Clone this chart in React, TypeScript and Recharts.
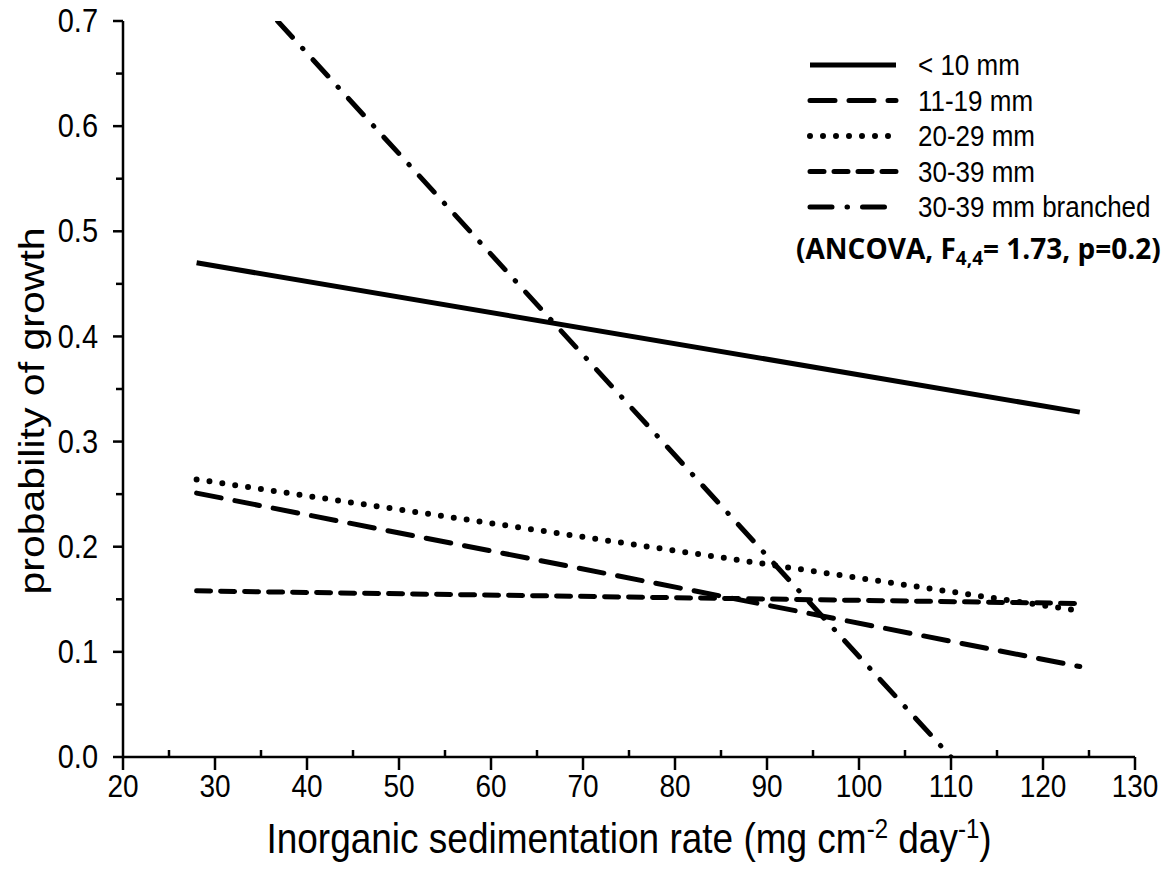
import React from "react";
import { LineChart, Line, XAxis, YAxis } from "recharts";

// fitted regression lines (x = sedimentation rate, y = probability)
const sedimentRange = [28, 124];
const branchedRange = [36.8, 110];
const lessThan10 = [0.47, 0.328];
const size11to19 = [0.251, 0.086];
const size20to29 = [0.264, 0.139];
const size30to39 = [0.158, 0.146];
const size30to39Branched = [0.7, 0.0];

const seriesNames = ["< 10 mm", "11-19 mm", "20-29 mm", "30-39 mm", "30-39 mm branched"];

const xTicks = [20, 25, 30, 35, 40, 45, 50, 55, 60, 65, 70, 75, 80, 85, 90, 95, 100, 105, 110, 115, 120, 125, 130];
const yTicks = [0, 0.05, 0.1, 0.15, 0.2, 0.25, 0.3, 0.35, 0.4, 0.45, 0.5, 0.55, 0.6, 0.65, 0.7];

const FONT = '"Liberation Sans", Arial, sans-serif';
const STRETCH = 1.14; // the source figure's text is a bit taller than wide

const toPoints = (xs: number[], ys: number[]) => xs.map((x, i) => ({ x, y: ys[i] }));

const series = [
  { name: seriesNames[0], data: toPoints(sedimentRange, lessThan10), dash: undefined, cap: "butt", w: 5 },
  { name: seriesNames[1], data: toPoints(sedimentRange, size11to19), dash: "25 14", cap: "round", w: 5 },
  { name: seriesNames[2], data: toPoints(sedimentRange, size20to29), dash: "0 13", cap: "round", w: 6 },
  { name: seriesNames[3], data: toPoints(sedimentRange, size30to39), dash: "14 10", cap: "round", w: 5 },
  { name: seriesNames[4], data: toPoints(branchedRange, size30to39Branched), dash: "22 15 0.5 15", cap: "round", w: 5 },
];

const XTick = (props: any) => {
  const { x, y, payload } = props;
  const major = payload.value % 10 === 0;
  return (
    <g>
      <line x1={x} x2={x} y1={y} y2={major ? y + 13 : y - 7} stroke="#000" strokeWidth={2.5} />
      {major && (
        <text
          transform={`translate(${x},${y + 40}) scale(1,${STRETCH})`}
          textAnchor="middle"
          fontSize={28}
          fontFamily={FONT}
          fill="#000"
        >
          {payload.value}
        </text>
      )}
    </g>
  );
};

const YTick = (props: any) => {
  const { x, y, payload } = props;
  const major = Math.round(payload.value * 100) % 10 === 0;
  return (
    <g>
      <line x1={x - (major ? 10 : 7)} x2={x} y1={y} y2={y} stroke="#000" strokeWidth={2.5} />
      {major && (
        <text
          transform={`translate(${x - 25},${y}) scale(1,${STRETCH})`}
          textAnchor="end"
          dominantBaseline="central"
          fontSize={29}
          fontFamily={FONT}
          fill="#000"
        >
          {payload.value.toFixed(1)}
        </text>
      )}
    </g>
  );
};

const xTitle = (props: any) => {
  const { viewBox } = props;
  const cx = viewBox.x + viewBox.width / 2;
  return (
    <text
      transform={`translate(${cx},${viewBox.y + 96}) scale(1,${STRETCH})`}
      textAnchor="middle"
      fontSize={37}
      fontFamily={FONT}
      fill="#000"
    >
      Inorganic sedimentation rate (mg cm
      <tspan dy={-13} fontSize={24}>-2</tspan>
      <tspan dy={13}> day</tspan>
      <tspan dy={-13} fontSize={24}>-1</tspan>
      <tspan dy={13}>)</tspan>
    </text>
  );
};

const yTitle = (props: any) => {
  const { viewBox } = props;
  const cy = viewBox.y + viewBox.height / 2 + 22;
  return (
    <text
      transform={`translate(31,${cy}) scale(1,${STRETCH}) rotate(-90)`}
      textAnchor="middle"
      dominantBaseline="central"
      fontSize={36}
      fontFamily={FONT}
      fill="#000"
    >
      probability of growth
    </text>
  );
};

const LegendBox = () => (
  <svg width={1170} height={300} style={{ position: "absolute", left: 0, top: 0, pointerEvents: "none" }}>
    {series.map((s, i) => {
      const y = 65 + i * 35.5;
      return (
        <g key={s.name}>
          <line
            x1={810}
            x2={896}
            y1={y}
            y2={y}
            stroke="#000"
            strokeWidth={s.w}
            strokeDasharray={s.dash}
            strokeLinecap={s.cap as any}
          />
          <text
            transform={`translate(918,${y}) scale(1,${STRETCH})`}
            dominantBaseline="central"
            fontSize={26}
            fontFamily={FONT}
            fill="#000"
          >
            {s.name}
          </text>
        </g>
      );
    })}
    <text x={796} y={259} fontSize={28} fontWeight="bold" fontFamily='"Open Sans", sans-serif' fill="#000">
      (ANCOVA, F<tspan dy={6} fontSize={19}>4,4</tspan>
      <tspan dy={-6}>= 1.73, p=0.2)</tspan>
    </text>
  </svg>
);

export default function App() {
  return (
    <div style={{ position: "absolute", left: 0, top: 0, width: 1170, height: 880, background: "#fff" }}>
      <LineChart width={1170} height={880} margin={{ top: 21, right: 35, bottom: 0, left: 0 }}>
        <XAxis
          type="number"
          dataKey="x"
          domain={[20, 130]}
          ticks={xTicks}
          interval={0}
          allowDataOverflow
          height={123}
          tickSize={0}
          tickMargin={0}
          tickLine={false}
          tick={XTick}
          axisLine={{ stroke: "#000", strokeWidth: 2.5 }}
          label={xTitle}
        />
        <YAxis
          type="number"
          domain={[0, 0.7]}
          ticks={yTicks}
          interval={0}
          allowDataOverflow
          width={123}
          tickSize={0}
          tickMargin={0}
          tickLine={false}
          tick={YTick}
          axisLine={{ stroke: "#000", strokeWidth: 2.5 }}
          label={yTitle}
        />
        {series.map((s) => (
          <Line
            key={s.name}
            data={s.data}
            dataKey="y"
            name={s.name}
            type="linear"
            stroke="#000"
            strokeWidth={s.w}
            strokeDasharray={s.dash}
            strokeLinecap={s.cap as any}
            dot={false}
            activeDot={false}
            isAnimationActive={false}
          />
        ))}
      </LineChart>
      <LegendBox />
    </div>
  );
}
